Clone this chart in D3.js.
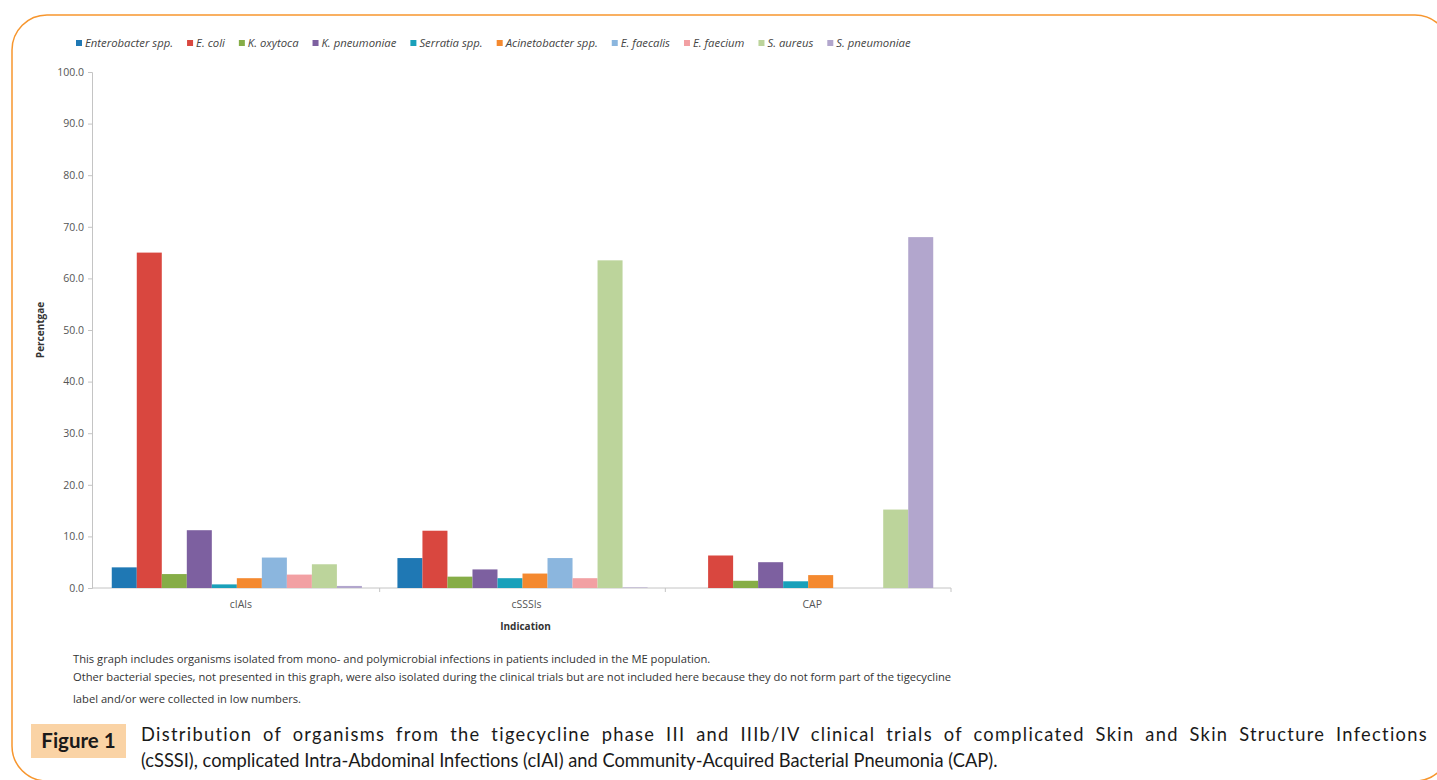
<!DOCTYPE html>
<html>
<head>
<meta charset="utf-8">
<script src="https://cdn.jsdelivr.net/npm/d3@7/dist/d3.min.js"></script>
<style>
  html, body { margin: 0; padding: 0; background: #fff; }
  svg { display: block; }
</style>
</head>
<body>
<script>
// Indications on the x axis
const categories = ["cIAls", "cSSSIs", "CAP"];

// Organisms (series) and their bar colours
const organisms = ["Enterobacter spp.", "E. coli", "K. oxytoca", "K. pneumoniae", "Serratia spp.",
  "Acinetobacter spp.", "E. faecalis", "E. faecium", "S. aureus", "S. pneumoniae"];
const organismColors = ["#1f78b4", "#d9473f", "#86ad47", "#7d60a0", "#19a0ba",
  "#f4892f", "#8bb6de", "#f2a0a3", "#bcd49b", "#b2a6cd"];

// Percentage of isolates per indication, one array per organism
const enterobacter = [4.0, 5.8, 0.0];
const eColi = [65.0, 11.1, 6.3];
const kOxytoca = [2.7, 2.2, 1.4];
const kPneumoniae = [11.2, 3.6, 5.0];
const serratia = [0.7, 1.9, 1.3];
const acinetobacter = [1.9, 2.8, 2.5];
const eFaecalis = [5.9, 5.8, 0.0];
const eFaecium = [2.6, 1.9, 0.0];
const sAureus = [4.6, 63.5, 15.2];
const sPneumoniae = [0.4, 0.1, 68.0];
const seriesValues = [enterobacter, eColi, kOxytoca, kPneumoniae, serratia,
  acinetobacter, eFaecalis, eFaecium, sAureus, sPneumoniae];

const yTicks = [0, 10, 20, 30, 40, 50, 60, 70, 80, 90, 100];

const footnotes = [
  "This graph includes organisms isolated from mono- and polymicrobial infections in patients included in the ME population.",
  "Other bacterial species, not presented in this graph, were also isolated during the clinical trials but are not included here because they do not form part of the tigecycline",
  "label and/or were collected in low numbers."
];
const figureLabel = "Figure 1";
const captionLines = [
  "Distribution of organisms from the tigecycline phase III and IIIb/IV clinical trials of complicated Skin and Skin Structure Infections",
  "(cSSSI), complicated Intra-Abdominal Infections (cIAI) and Community-Acquired Bacterial Pneumonia (CAP)."
];

const W = 1437, H = 780;
const svg = d3.select("body").append("svg").attr("width", W).attr("height", H);

// Rounded orange frame
svg.append("rect")
  .attr("x", 12).attr("y", 15).attr("width", 1438).attr("height", 766)
  .attr("rx", 35).attr("ry", 35)
  .attr("fill", "none").attr("stroke", "#f7962e").attr("stroke-width", 1.5);

// Plot area
const plot = { left: 92, right: 951, top: 72, bottom: 588 };

const x0 = d3.scaleBand().domain(categories).range([94, plot.right]).padding(0);
const x1 = d3.scaleBand().domain(organisms).range([0, x0.bandwidth()])
  .paddingInner(0).paddingOuter(0.71);
const y = d3.scaleLinear().domain([0, 100]).range([plot.bottom, plot.top]);
const color = d3.scaleOrdinal().domain(organisms).range(organismColors);

const font = "'Open Sans', Lato, sans-serif";
const capFont = "Lato, 'Open Sans', sans-serif";

// Y axis
const yAxis = svg.append("g")
  .attr("transform", `translate(${plot.left},0)`)
  .call(d3.axisLeft(y).tickValues(yTicks).tickFormat(d3.format(".1f")).tickSize(4).tickPadding(4));
yAxis.select(".domain").attr("stroke", "#c4c4c4");
yAxis.selectAll(".tick line").attr("stroke", "#c4c4c4");
yAxis.selectAll(".tick text").attr("fill", "#555").style("font-family", font).style("font-size", "10.5px");

// X axis with ticks at the group boundaries
const xAxis = svg.append("g")
  .attr("transform", `translate(0,${plot.bottom})`);
xAxis.append("line")
  .attr("x1", plot.left).attr("x2", plot.right)
  .attr("stroke", "#c4c4c4");
xAxis.selectAll("line.bound")
  .data(categories.slice(1).concat(["end"]))
  .join("line")
  .attr("class", "bound")
  .attr("x1", (d, i) => i < categories.length - 1 ? x0(d) : x0.range()[1])
  .attr("x2", (d, i) => i < categories.length - 1 ? x0(d) : x0.range()[1])
  .attr("y1", 0).attr("y2", 4)
  .attr("stroke", "#c4c4c4");
xAxis.selectAll("text.cat")
  .data(categories)
  .join("text")
  .attr("class", "cat")
  .attr("x", d => x0(d) + x0.bandwidth() / 2 + 4)
  .attr("y", 20)
  .attr("text-anchor", "middle")
  .attr("fill", "#555")
  .style("font-family", font).style("font-size", "10.5px")
  .text(d => d);

// Bars
const groups = svg.append("g").selectAll("g")
  .data(categories)
  .join("g")
  .attr("transform", d => `translate(${x0(d)},0)`);
groups.selectAll("rect")
  .data((c, ci) => organisms.map((o, oi) => ({ org: o, value: seriesValues[oi][ci] })))
  .join("rect")
  .attr("x", d => x1(d.org))
  .attr("width", x1.bandwidth())
  .attr("y", d => y(d.value))
  .attr("height", d => y(0) - y(d.value))
  .attr("fill", d => color(d.org));

// Axis titles
svg.append("text")
  .attr("transform", `translate(44,${(plot.top + plot.bottom) / 2}) rotate(-90)`)
  .attr("text-anchor", "middle")
  .attr("fill", "#333")
  .style("font-family", font).style("font-size", "10px").style("font-weight", "bold")
  .text("Percentgae");
svg.append("text")
  .attr("x", (plot.left + plot.right) / 2 + 4)
  .attr("y", 630)
  .attr("text-anchor", "middle")
  .attr("fill", "#333")
  .style("font-family", font).style("font-size", "10px").style("font-weight", "bold")
  .text("Indication");

// Legend laid out in one row
const legend = svg.append("g").attr("transform", "translate(76,47)");
let lx = 0;
organisms.forEach((o, i) => {
  const item = legend.append("g").attr("transform", `translate(${lx},0)`);
  item.append("rect").attr("x", 0).attr("y", -7).attr("width", 6).attr("height", 6)
    .attr("fill", organismColors[i]);
  const t = item.append("text").attr("x", 9).attr("y", 0)
    .attr("fill", "#444")
    .style("font-family", font).style("font-size", "11.3px").style("font-style", "italic")
    .text(o);
  lx += 9 + t.node().getComputedTextLength() + 14;
});

// Footnotes under the chart
svg.selectAll("text.note")
  .data(footnotes)
  .join("text")
  .attr("class", "note")
  .attr("x", 73)
  .attr("y", (d, i) => [663, 681, 703][i])
  .attr("fill", "#333")
  .style("font-family", font).style("font-size", "11.2px")
  .text(d => d);

// Figure caption
svg.append("rect")
  .attr("x", 31).attr("y", 724).attr("width", 95).attr("height", 34)
  .attr("fill", "#fad3a5");
svg.append("text")
  .attr("x", 78.5).attr("y", 748)
  .attr("text-anchor", "middle")
  .attr("fill", "#1a1a1a")
  .style("font-family", capFont).style("font-size", "20.5px").style("font-weight", "bold")
  .text(figureLabel);
const capText = svg.selectAll("text.caption")
  .data(captionLines)
  .join("text")
  .attr("class", "caption")
  .attr("x", 141)
  .attr("y", (d, i) => 741 + i * 26)
  .attr("fill", "#1a1a1a")
  .style("font-family", capFont).style("font-size", "18.3px")
  .text(d => d);
// First caption line is justified to the full text column (letter and word gaps widened)
capText.filter((d, i) => i === 0).each(function(d) {
  const sel = d3.select(this).style("letter-spacing", "1.3px");
  const natural = this.getComputedTextLength();
  const gaps = d.split(" ").length - 1;
  const target = 1428 - 141;
  if (natural < target && gaps > 0) {
    sel.style("word-spacing", ((target - natural) / gaps) + "px");
  }
});
</script>
</body>
</html>
